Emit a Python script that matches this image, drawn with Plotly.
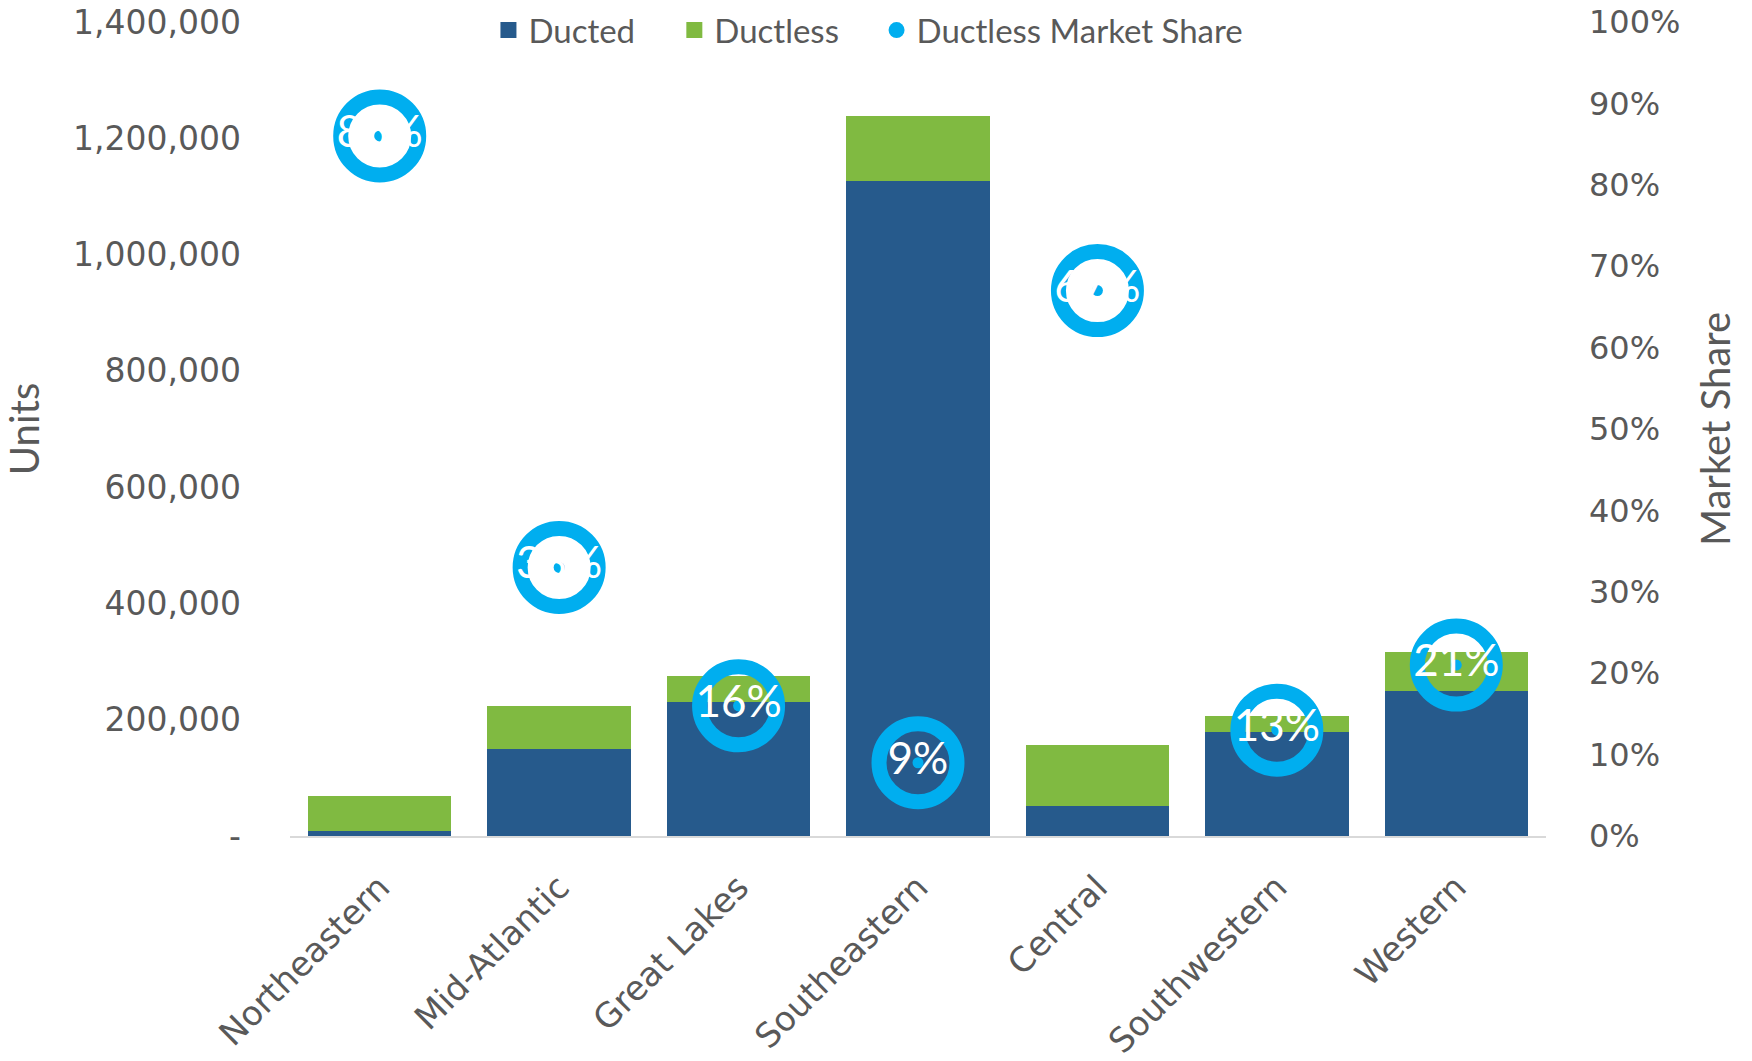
import plotly.graph_objects as go

regions = ["Northeastern", "Mid-Atlantic", "Great Lakes", "Southeastern", "Central", "Southwestern", "Western"]
ducted = [8000, 150000, 231000, 1127000, 52000, 179000, 250000]
ductless = [61000, 73000, 44000, 111000, 104000, 27000, 67000]
share = [0.86, 0.33, 0.16, 0.09, 0.67, 0.13, 0.21]
share_labels = ["86%", "33%", "16%", "9%", "67%", "13%", "21%"]

left_ticks = [0, 200000, 400000, 600000, 800000, 1000000, 1200000, 1400000]
left_ticktext = ["-", "200,000", "400,000", "600,000", "800,000", "1,000,000", "1,200,000", "1,400,000"]

C_DUCTED = "#265A8C"
C_DUCTLESS = "#80BA41"
C_SHARE = "#00AEEF"
GRAY = "#595959"
NARROW = "Lato, sans-serif"
WIDE = "DejaVu Sans, Verdana, sans-serif"

fig = go.Figure()
fig.add_trace(go.Bar(x=regions, y=ducted, name="Ducted", showlegend=False,
                     marker=dict(color=C_DUCTED, line=dict(width=0))))
fig.add_trace(go.Bar(x=regions, y=ductless, name="Ductless", showlegend=False,
                     marker=dict(color=C_DUCTLESS, line=dict(width=0))))
fig.add_trace(go.Scatter(
    x=regions, y=share, yaxis="y2", mode="markers", showlegend=False,
    marker=dict(symbol="circle-open", size=78, color=C_SHARE, line=dict(width=15, color=C_SHARE)),
))
fig.add_trace(go.Scatter(
    x=regions, y=share, yaxis="y2", mode="markers+text", showlegend=False,
    marker=dict(symbol="circle", size=11, color=C_SHARE),
    text=share_labels, textposition="middle center",
    textfont=dict(family=NARROW, size=44, color="white"),
))
# legend entries
fig.add_trace(go.Scatter(x=[None], y=[None], mode="markers", name="Ducted", legend="legend",
                         marker=dict(symbol="square", size=16, color=C_DUCTED)))
fig.add_trace(go.Scatter(x=[None], y=[None], mode="markers", name="Ductless", legend="legend2",
                         marker=dict(symbol="square", size=16, color=C_DUCTLESS)))
fig.add_trace(go.Scatter(x=[None], y=[None], yaxis="y2", mode="markers", name="Ductless Market Share",
                         legend="legend3", marker=dict(symbol="circle", size=16, color=C_SHARE)))

leg_common = dict(orientation="h", y=0.99, yanchor="middle", xanchor="left",
                  font=dict(family=NARROW, size=33, color=GRAY), bgcolor="rgba(0,0,0,0)",
                  itemsizing="trace")

fig.update_layout(
    width=1752, height=1061,
    margin=dict(l=290, r=206, t=22, b=225, autoexpand=False),
    paper_bgcolor="white", plot_bgcolor="white",
    barmode="stack", bargap=0.2,
    showlegend=True,
    legend=dict(x=0.158, **leg_common),
    legend2=dict(x=0.306, **leg_common),
    legend3=dict(x=0.467, **leg_common),
    xaxis=dict(range=[-0.5, 6.5], showgrid=False, showline=True, linecolor="#D9D9D9", linewidth=1.5,
               tickangle=-45, tickfont=dict(family=WIDE, size=34, color=GRAY),
               ticks="outside", ticklen=16, tickcolor="rgba(0,0,0,0)", automargin=False),
    yaxis=dict(range=[0, 1400000], tickvals=left_ticks, ticktext=left_ticktext,
               showgrid=False, zeroline=False, showline=False, automargin=False,
               tickfont=dict(family=WIDE, size=33, color=GRAY),
               ticklabelstandoff=48, ticklabeloverflow="allow",
               title=dict(text="Units", font=dict(family=NARROW, size=40, color=GRAY), standoff=32)),
    yaxis2=dict(range=[0, 1], overlaying="y", side="right", dtick=0.1, tickformat=".0%",
                showgrid=False, zeroline=False, showline=False, automargin=False,
                tickfont=dict(family=WIDE, size=32, color=GRAY),
                ticklabelstandoff=42, ticklabeloverflow="allow",
                title=dict(text="Market Share", font=dict(family=NARROW, size=40, color=GRAY), standoff=22)),
)

fig.write_html(
    "out.html",
    config={"displayModeBar": False},
    post_script="document.body.style.margin='0';document.body.style.overflow='hidden';",
)
